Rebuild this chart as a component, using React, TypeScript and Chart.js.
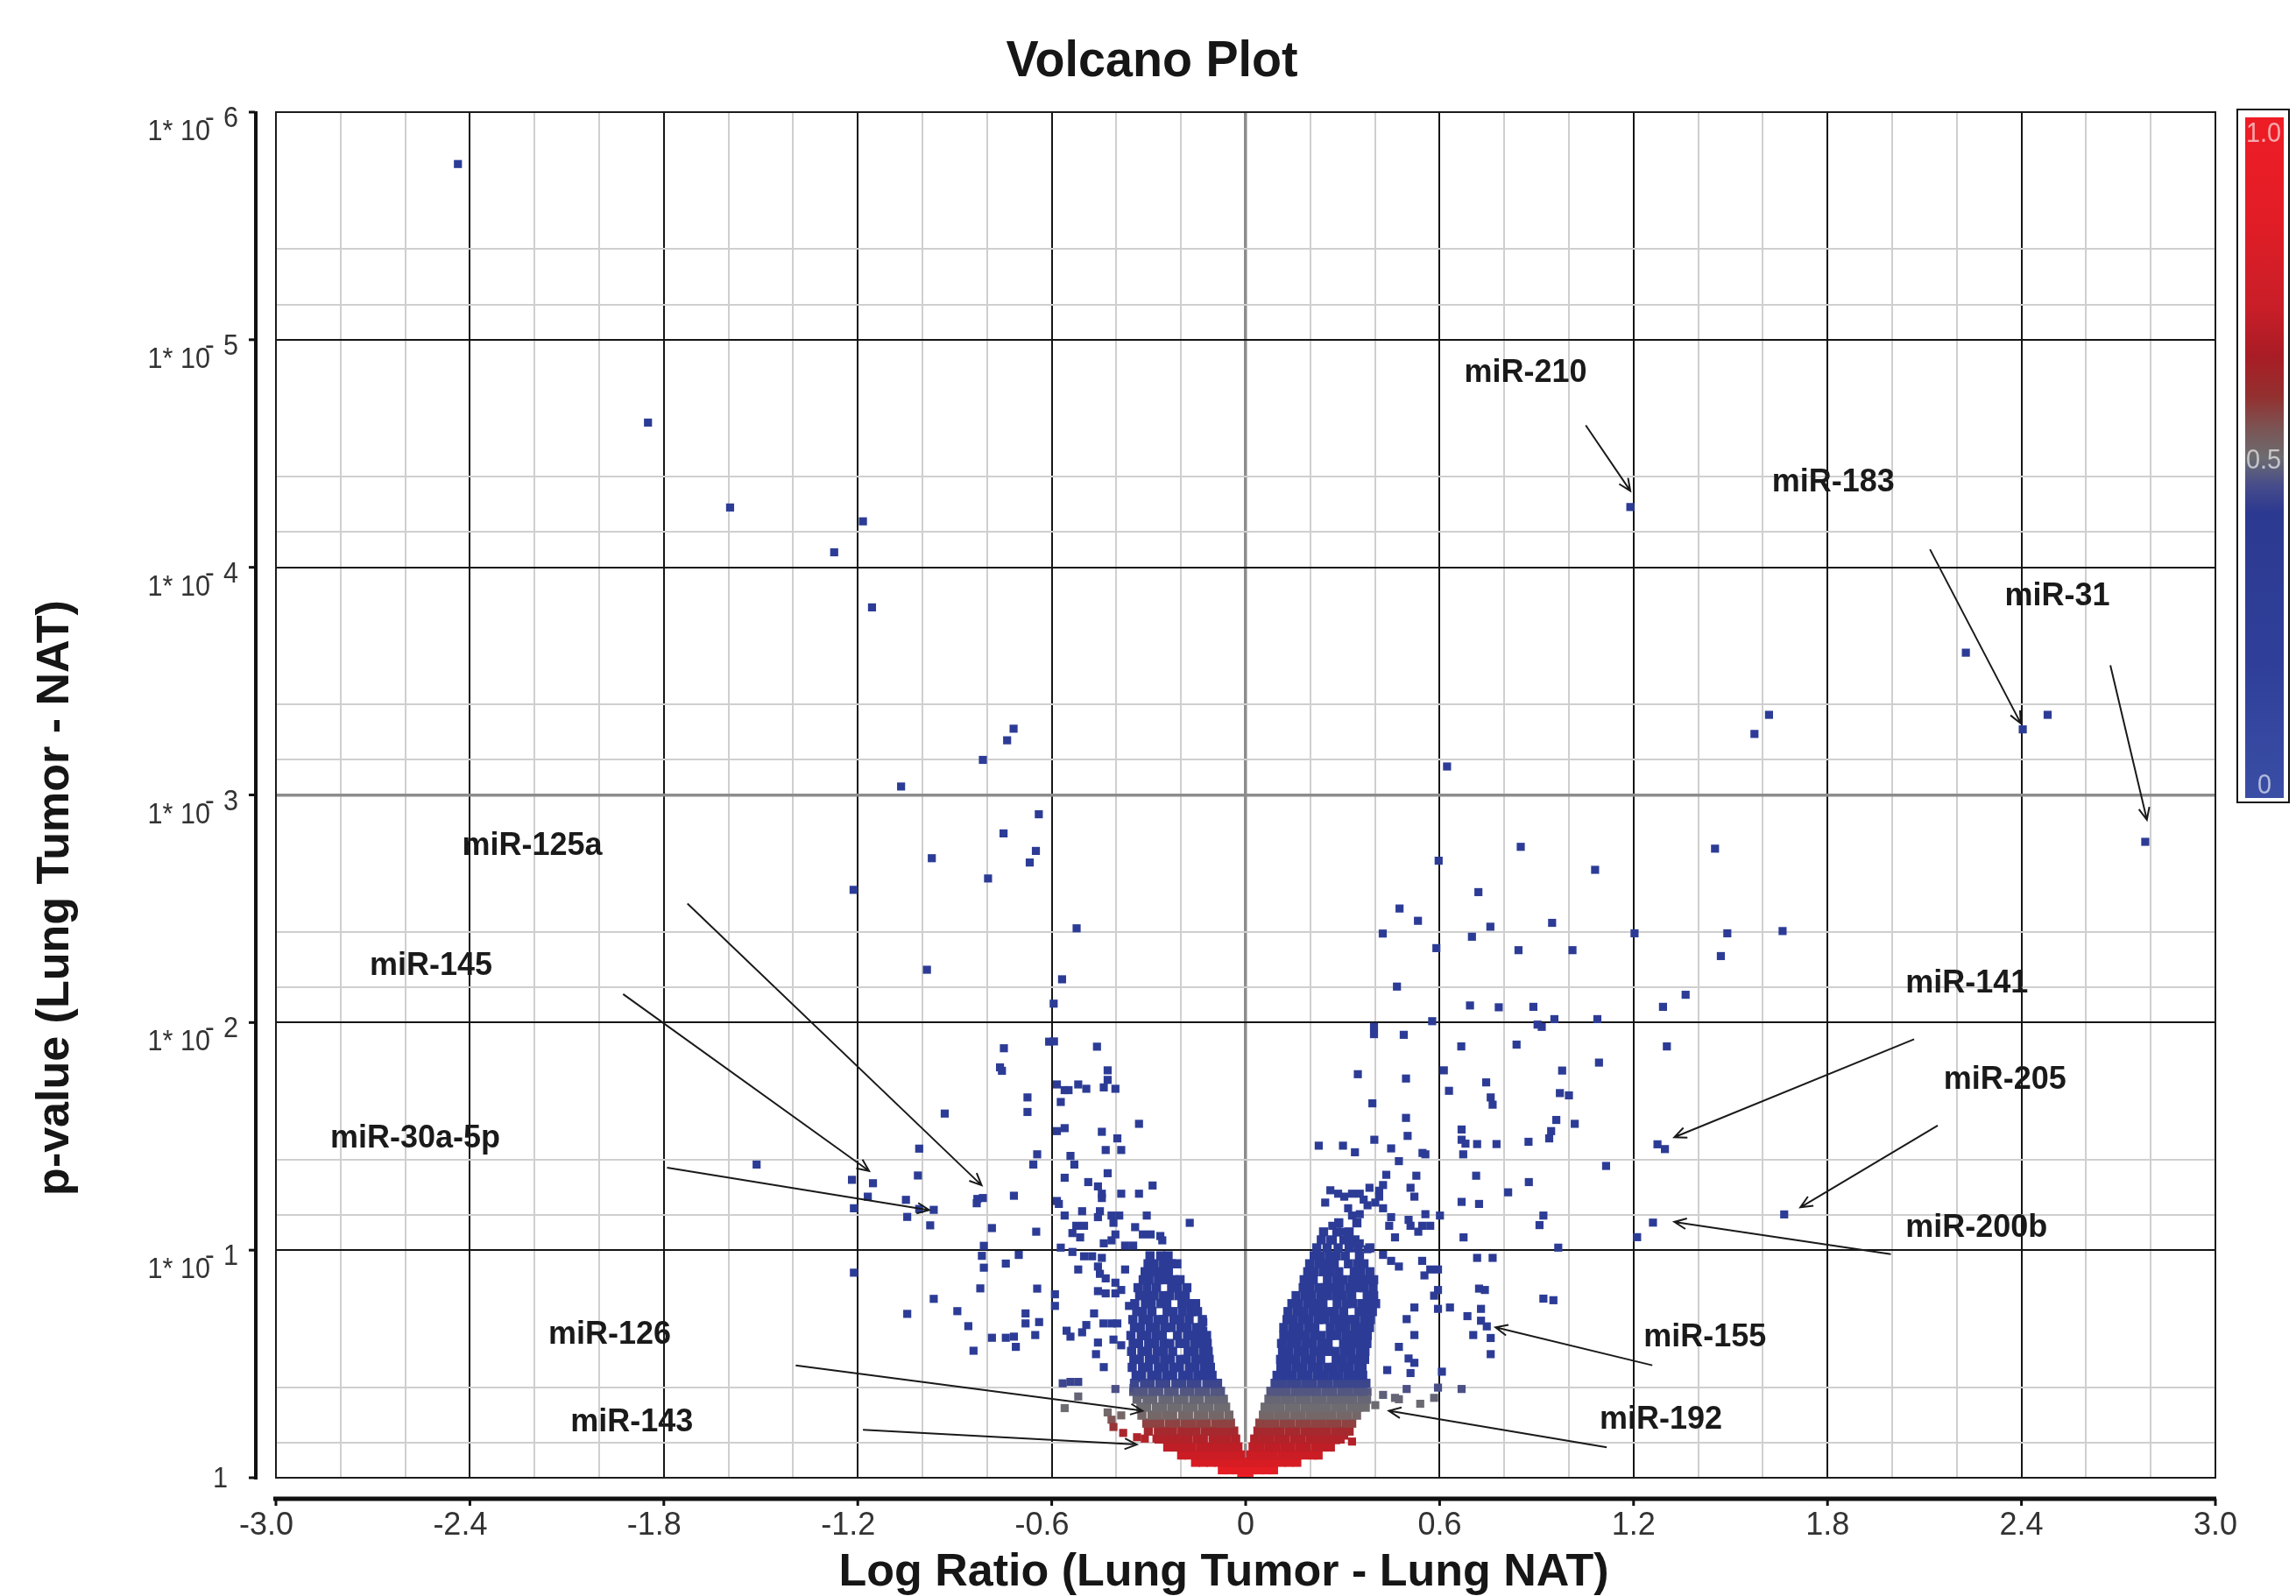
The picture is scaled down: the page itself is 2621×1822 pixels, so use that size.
import React, { useEffect, useRef } from 'react';
import { Chart, registerables } from 'chart.js';

Chart.register(...registerables);

// x = log ratio (Lung Tumor - Lung NAT), y = -log10(p-value)
const topOutliers: number[][] = [
  [-2.437, 5.772], [-1.849, 4.636], [-1.595, 4.263], [-1.184, 4.202], [-1.273, 4.066], [-1.156, 3.824],
  [-0.718, 3.291], [-0.738, 3.240], [-0.813, 3.154], [-1.066, 3.037],
  [-0.640, 2.915], [-0.749, 2.831], [-0.649, 2.754], [-0.668, 2.703], [-0.971, 2.722], [-0.797, 2.633],
  [-1.213, 2.583], [-0.523, 2.414], [-0.986, 2.232], [-0.568, 2.190], [-0.594, 2.083],
  [1.190, 4.265], [2.228, 3.625], [2.404, 3.288], [2.481, 3.352], [1.619, 3.352], [1.574, 3.268],
  [2.783, 2.794], [0.623, 3.125],
];

const leftScatter: number[][] = [
  [-0.608, 1.916], [-0.593, 1.917], [-0.748, 1.887], [-0.460, 1.894], [-0.760, 1.803], [-0.754, 1.788],
  [-0.931, 1.600], [-1.010, 1.446], [-1.513, 1.376], [-1.014, 1.328], [-1.218, 1.309], [-1.153, 1.294],
  [-1.169, 1.235], [-1.051, 1.221], [-0.830, 1.225], [-0.813, 1.229], [-0.832, 1.206], [-1.212, 1.184],
  [-1.010, 1.181], [-0.965, 1.177], [-1.047, 1.146], [-0.976, 1.109], [-0.785, 1.097], [-0.810, 1.019],
  [-0.816, 0.975], [-0.810, 0.923], [-0.742, 0.941], [-1.212, 0.901], [-0.821, 0.832], [-0.965, 0.786],
  [-1.047, 0.720], [-0.892, 0.732], [-0.858, 0.666], [-0.785, 0.615], [-0.742, 0.615], [-0.842, 0.558],
  [-0.427, 1.790], [-0.427, 1.748], [-0.584, 1.728], [-0.560, 1.703], [-0.548, 1.703], [-0.572, 1.651],
  [-0.518, 1.728], [-0.493, 1.709], [-0.439, 1.715], [-0.403, 1.709], [-0.675, 1.671], [-0.675, 1.607],
  [-0.330, 1.555], [-0.584, 1.523], [-0.560, 1.536], [-0.445, 1.520], [-0.397, 1.491], [-0.385, 1.440],
  [-0.433, 1.440], [-0.645, 1.421], [-0.657, 1.376], [-0.542, 1.414], [-0.530, 1.376], [-0.427, 1.338],
  [-0.560, 1.318], [-0.487, 1.299], [-0.457, 1.280], [-0.445, 1.248], [-0.445, 1.229], [-0.385, 1.248],
  [-0.330, 1.248], [-0.288, 1.284], [-0.717, 1.239], [-0.584, 1.216], [-0.578, 1.203], [-0.506, 1.171],
  [-0.451, 1.171], [-0.457, 1.145], [-0.415, 1.152], [-0.391, 1.152], [-0.306, 1.152], [-0.560, 1.152],
  [-0.173, 1.120], [-0.524, 1.107], [-0.500, 1.107], [-0.536, 1.075], [-0.512, 1.056], [-0.409, 1.120],
  [-0.403, 1.069], [-0.342, 1.101], [-0.318, 1.069], [-0.294, 1.069], [-0.264, 1.062], [-0.258, 1.043],
  [-0.648, 1.081], [-0.439, 1.030], [-0.415, 1.043], [-0.373, 1.020], [-0.348, 1.020], [-0.572, 1.011],
  [-0.536, 0.992], [-0.500, 0.973], [-0.475, 0.973], [-0.445, 0.966], [-0.702, 0.979], [-0.518, 0.915],
  [-0.457, 0.928], [-0.451, 0.896], [-0.433, 0.876], [-0.403, 0.857], [-0.373, 0.915], [-0.645, 0.831],
  [-0.590, 0.806], [-0.590, 0.755], [-0.457, 0.820], [-0.433, 0.810], [-0.403, 0.810], [-0.385, 0.825],
  [-0.361, 0.755], [-0.681, 0.722], [-0.681, 0.678], [-0.639, 0.684], [-0.651, 0.627], [-0.469, 0.722],
  [-0.554, 0.646], [-0.542, 0.620], [-0.506, 0.639], [-0.493, 0.671], [-0.440, 0.678], [-0.415, 0.678],
  [-0.397, 0.678], [-0.717, 0.620], [-0.711, 0.575], [-0.131, 0.684], [-0.131, 0.646], [-0.131, 0.620],
  [-0.566, 0.415], [-0.542, 0.421], [-0.518, 0.421], [-0.560, 0.306], [-0.518, 0.357], [-0.403, 0.390],
  [-0.463, 0.543], [-0.439, 0.486], [-0.457, 0.594], [-0.409, 0.607], [-0.385, 0.582], [-0.427, 0.287],
  [-0.415, 0.255], [-0.385, 0.274], [-0.409, 0.223], [-0.379, 0.197], [-0.336, 0.178], [-0.312, 0.172],
  [-0.276, 0.172], [-0.348, 0.377], [-0.324, 0.364], [-0.338, 0.438], [-0.347, 0.394],
];

const rightScatter: number[][] = [
  [0.851, 2.772], [1.452, 2.764], [0.597, 2.711], [1.081, 2.671], [0.720, 2.573], [0.476, 2.501],
  [0.533, 2.447], [0.948, 2.438], [0.757, 2.421], [0.424, 2.391], [0.700, 2.377], [1.203, 2.392],
  [1.490, 2.392], [1.661, 2.402], [0.590, 2.327], [0.844, 2.318], [1.011, 2.318], [1.470, 2.292],
  [0.468, 2.158], [1.361, 2.122], [1.291, 2.069], [0.694, 2.075], [0.783, 2.067], [0.890, 2.069],
  [0.397, 1.981], [0.397, 1.949], [0.489, 1.946], [0.577, 2.006], [0.903, 1.991], [0.916, 1.981],
  [0.955, 2.015], [1.088, 2.015], [0.667, 1.895], [0.838, 1.903], [1.303, 1.895], [1.274, 1.465],
  [1.297, 1.444], [1.666, 1.157], [1.260, 1.121], [1.211, 1.057],
  [0.347, 1.773], [0.496, 1.754], [0.613, 1.790], [0.629, 1.700], [0.744, 1.737], [0.758, 1.671],
  [0.764, 1.639], [0.979, 1.789], [0.972, 1.690], [1.000, 1.680], [1.093, 1.824], [0.392, 1.645],
  [0.496, 1.581], [0.501, 1.502], [0.398, 1.485], [0.226, 1.459], [0.301, 1.459], [0.338, 1.430],
  [0.450, 1.447], [0.547, 1.427], [0.556, 1.421], [0.474, 1.391], [0.668, 1.530], [0.668, 1.485],
  [0.680, 1.468], [0.673, 1.421], [0.716, 1.466], [0.776, 1.466], [0.875, 1.476], [0.961, 1.572],
  [1.018, 1.555], [0.945, 1.523], [0.939, 1.491], [1.115, 1.370], [0.713, 1.327], [0.876, 1.299],
  [0.812, 1.254], [0.668, 1.212], [0.722, 1.203], [0.921, 1.152], [0.909, 1.110], [0.674, 1.056],
  [0.967, 1.011], [0.528, 1.327], [0.435, 1.331], [0.425, 1.286], [0.413, 1.261], [0.383, 1.274],
  [0.353, 1.248], [0.329, 1.248], [0.305, 1.235], [0.286, 1.248], [0.262, 1.263], [0.246, 1.209],
  [0.317, 1.184], [0.329, 1.152], [0.353, 1.158], [0.365, 1.222], [0.377, 1.197], [0.413, 1.235],
  [0.401, 1.209], [0.425, 1.184], [0.510, 1.274], [0.522, 1.235], [0.450, 1.145], [0.444, 1.107],
  [0.462, 1.056], [0.504, 1.133], [0.510, 1.107], [0.546, 1.107], [0.534, 1.081], [0.571, 1.107],
  [0.556, 1.158], [0.601, 1.152], [0.268, 1.107], [0.262, 1.043], [0.298, 1.081], [0.317, 1.056],
  [0.329, 1.030], [0.353, 1.030], [0.377, 1.004], [0.425, 0.979], [0.450, 0.953], [0.474, 0.928],
  [0.546, 0.953], [0.571, 0.915], [0.595, 0.915], [0.553, 0.889], [0.595, 0.825], [0.583, 0.800],
  [0.595, 0.742], [0.632, 0.748], [0.522, 0.748], [0.498, 0.697], [0.716, 0.966], [0.764, 0.966],
  [0.722, 0.831], [0.740, 0.825], [0.921, 0.787], [0.952, 0.780], [0.728, 0.742], [0.686, 0.710],
  [0.728, 0.690], [0.746, 0.665], [0.758, 0.614], [0.704, 0.627], [0.758, 0.543], [0.522, 0.627],
  [0.474, 0.575], [0.504, 0.524], [0.522, 0.505], [0.438, 0.473], [0.510, 0.460], [0.607, 0.466],
  [0.498, 0.390], [0.595, 0.396], [0.583, 0.351], [0.668, 0.390], [0.540, 0.325], [0.401, 0.319],
  [0.425, 0.364], [0.462, 0.351], [0.474, 0.345], [0.377, 0.377], [0.329, 0.159], [0.280, 0.165],
  [0.305, 0.185],
];

// dense core: each row = [y, x1, x2, ...]
const tipRows: number[][] = [
  [0.005, -0.012, 0.010],
  [0.035, -0.072, -0.050, -0.027, -0.004, 0.019, 0.042, 0.064, 0.086],
  [0.068, -0.155, -0.131, -0.107, -0.083, -0.059, -0.035, -0.011, 0.013, 0.037, 0.061, 0.085, 0.109, 0.133, 0.158],
];

const leftCoreRows: number[][] = [
  [0.100, -0.198, -0.176, -0.151, -0.129, -0.104, -0.083, -0.058, -0.036, -0.016],
  [0.135, -0.241, -0.215, -0.193, -0.168, -0.140, -0.119, -0.097, -0.071, -0.048, -0.024],
  [0.170, -0.268, -0.247, -0.221, -0.203, -0.178, -0.150, -0.131, -0.101, -0.082, -0.058, -0.031],
  [0.205, -0.301, -0.270, -0.251, -0.226, -0.197, -0.179, -0.155, -0.126, -0.106, -0.079, -0.059, -0.037],
  [0.240, -0.306, -0.284, -0.265, -0.236, -0.217, -0.188, -0.168, -0.140, -0.121, -0.092, -0.071, -0.047],
  [0.275, -0.321, -0.290, -0.272, -0.244, -0.226, -0.195, -0.177, -0.147, -0.129, -0.100, -0.081, -0.052],
  [0.310, -0.324, -0.306, -0.276, -0.258, -0.229, -0.210, -0.181, -0.162, -0.133, -0.114, -0.085, -0.062],
  [0.345, -0.336, -0.305, -0.287, -0.256, -0.238, -0.209, -0.191, -0.161, -0.143, -0.113, -0.095, -0.069],
  [0.380, -0.334, -0.316, -0.287, -0.269, -0.239, -0.221, -0.190, -0.172, -0.143, -0.125, -0.096, -0.078],
  [0.415, -0.344, -0.313, -0.295, -0.265, -0.247, -0.216, -0.198, -0.169, -0.151, -0.120, -0.102, -0.087],
  [0.450, -0.339, -0.322, -0.291, -0.273, -0.244, -0.226, -0.195, -0.177, -0.148, -0.129, -0.104],
  [0.485, -0.351, -0.319, -0.301, -0.270, -0.252, -0.223, -0.205, -0.174, -0.156, -0.127, -0.109],
  [0.520, -0.346, -0.329, -0.298, -0.280, -0.251, -0.233, -0.202, -0.184, -0.155, -0.137, -0.113],
  [0.555, -0.353, -0.321, -0.303, -0.273, -0.255, -0.226, -0.178, -0.160, -0.131, -0.116],
  [0.590, -0.348, -0.331, -0.300, -0.282, -0.253, -0.235, -0.204, -0.186, -0.157, -0.139, -0.119],
  [0.625, -0.355, -0.323, -0.305, -0.276, -0.258, -0.211, -0.180, -0.162, -0.136, -0.121],
  [0.660, -0.344, -0.326, -0.296, -0.278, -0.249, -0.230, -0.200, -0.182, -0.153, -0.137],
  [0.695, -0.349, -0.318, -0.300, -0.271, -0.253, -0.222, -0.204, -0.175, -0.134],
  [0.730, -0.337, -0.319, -0.290, -0.243, -0.225, -0.196, -0.168, -0.149],
  [0.765, -0.343, -0.310, -0.292, -0.262, -0.244, -0.197, -0.170, -0.155],
  [0.800, -0.328, -0.301, -0.283, -0.254, -0.236, -0.207, -0.187],
  [0.835, -0.333, -0.305, -0.276, -0.229, -0.211, -0.182],
  [0.870, -0.317, -0.299, -0.270, -0.248, -0.222, -0.203],
  [0.905, -0.311, -0.288, -0.264, -0.239],
  [0.940, -0.302, -0.283, -0.254, -0.230, -0.213],
  [0.975, -0.296, -0.263, -0.240],
];

const rightCoreRows: number[][] = [
  [0.100, 0.016, 0.038, 0.064, 0.085, 0.112, 0.133, 0.160, 0.181, 0.208, 0.224],
  [0.135, 0.023, 0.045, 0.072, 0.092, 0.120, 0.140, 0.168, 0.188, 0.216, 0.236, 0.262],
  [0.170, 0.028, 0.055, 0.075, 0.103, 0.123, 0.151, 0.171, 0.199, 0.219, 0.247, 0.267, 0.292],
  [0.205, 0.038, 0.059, 0.087, 0.107, 0.135, 0.155, 0.183, 0.203, 0.231, 0.251, 0.279, 0.299, 0.320],
  [0.240, 0.044, 0.071, 0.091, 0.119, 0.139, 0.167, 0.187, 0.215, 0.235, 0.263, 0.283, 0.311, 0.328],
  [0.275, 0.055, 0.075, 0.103, 0.123, 0.151, 0.171, 0.199, 0.219, 0.247, 0.267, 0.295, 0.315, 0.343],
  [0.310, 0.060, 0.087, 0.107, 0.135, 0.155, 0.183, 0.203, 0.231, 0.251, 0.279, 0.299, 0.327, 0.347, 0.370],
  [0.345, 0.072, 0.092, 0.120, 0.140, 0.168, 0.188, 0.216, 0.236, 0.264, 0.284, 0.312, 0.332, 0.360, 0.374],
  [0.380, 0.078, 0.105, 0.125, 0.153, 0.173, 0.201, 0.221, 0.249, 0.269, 0.297, 0.317, 0.345, 0.363],
  [0.415, 0.091, 0.111, 0.139, 0.159, 0.187, 0.207, 0.235, 0.255, 0.283, 0.303, 0.331, 0.351, 0.372],
  [0.450, 0.097, 0.125, 0.145, 0.173, 0.193, 0.221, 0.241, 0.269, 0.289, 0.317, 0.337, 0.362],
  [0.485, 0.109, 0.129, 0.157, 0.177, 0.205, 0.225, 0.253, 0.273, 0.301, 0.321, 0.349, 0.360],
  [0.520, 0.108, 0.136, 0.156, 0.184, 0.204, 0.232, 0.280, 0.300, 0.328, 0.348, 0.368],
  [0.555, 0.114, 0.134, 0.162, 0.182, 0.210, 0.230, 0.258, 0.278, 0.306, 0.326, 0.354, 0.369],
  [0.590, 0.111, 0.139, 0.159, 0.187, 0.207, 0.235, 0.255, 0.303, 0.331, 0.351, 0.375],
  [0.625, 0.118, 0.138, 0.166, 0.186, 0.214, 0.234, 0.262, 0.282, 0.310, 0.330, 0.358, 0.376],
  [0.660, 0.118, 0.146, 0.166, 0.194, 0.214, 0.262, 0.290, 0.310, 0.338, 0.358, 0.383],
  [0.695, 0.128, 0.148, 0.176, 0.196, 0.224, 0.244, 0.272, 0.292, 0.320, 0.340, 0.368, 0.386],
  [0.730, 0.131, 0.159, 0.179, 0.207, 0.227, 0.255, 0.275, 0.303, 0.351, 0.371, 0.392],
  [0.765, 0.143, 0.163, 0.191, 0.211, 0.239, 0.283, 0.311, 0.331, 0.359, 0.379, 0.402],
  [0.800, 0.156, 0.184, 0.204, 0.232, 0.252, 0.280, 0.300, 0.328, 0.376, 0.396],
  [0.835, 0.178, 0.198, 0.226, 0.246, 0.274, 0.294, 0.322, 0.346, 0.366, 0.394],
  [0.870, 0.181, 0.209, 0.253, 0.281, 0.301, 0.329, 0.349, 0.377, 0.396],
  [0.905, 0.192, 0.212, 0.240, 0.260, 0.288, 0.336, 0.356, 0.384],
  [0.940, 0.198, 0.226, 0.246, 0.274, 0.318, 0.346, 0.366],
  [0.975, 0.212, 0.232, 0.260, 0.280, 0.308, 0.352],
  [1.010, 0.220, 0.252, 0.286, 0.320, 0.348, 0.384],
  [1.045, 0.234, 0.268, 0.304, 0.338],
  [1.080, 0.241, 0.282, 0.320],
  [1.120, 0.288, 0.344],
];

const xTickValues = [-3, -2.4, -1.8, -1.2, -0.6, 0, 0.6, 1.2, 1.8, 2.4, 3];
const xTickLabels = ['-3.0', '-2.4', '-1.8', '-1.2', '-0.6', '0', '0.6', '1.2', '1.8', '2.4', '3.0'];
const yExponents = [1, 2, 3, 4, 5, 6];

// label: text, [tx, ty] = text left/baseline, [x0,y0] -> [x1,y1] arrow (data coordinates)
const annotations: { label: string; tx: number; ty: number; x0: number; y0: number; x1: number; y1: number }[] = [
  { label: 'miR-210', tx: 0.676, ty: 4.816, x0: 1.052, y0: 4.624, x1: 1.190, y1: 4.336 },
  { label: 'miR-183', tx: 1.628, ty: 4.335, x0: 2.117, y0: 4.079, x1: 2.398, y1: 3.314 },
  { label: 'miR-31', tx: 2.348, ty: 3.834, x0: 2.675, y0: 3.570, x1: 2.788, y1: 2.891 },
  { label: 'miR-125a', tx: -2.424, ty: 2.735, x0: -1.727, y0: 2.523, x1: -0.817, y1: 1.285 },
  { label: 'miR-145', tx: -2.710, ty: 2.208, x0: -1.926, y0: 2.125, x1: -1.165, y1: 1.348 },
  { label: 'miR-30a-5p', tx: -2.832, ty: 1.450, x0: -1.790, y0: 1.362, x1: -0.979, y1: 1.176 },
  { label: 'miR-126', tx: -2.157, ty: 0.590, x0: -1.392, y0: 0.494, x1: -0.319, y1: 0.294 },
  { label: 'miR-143', tx: -2.089, ty: 0.204, x0: -1.184, y0: 0.211, x1: -0.337, y1: 0.146 },
  { label: 'miR-141', tx: 2.041, ty: 2.132, x0: 2.068, y0: 1.927, x1: 1.326, y1: 1.496 },
  { label: 'miR-205', tx: 2.159, ty: 1.708, x0: 2.141, y0: 1.548, x1: 1.716, y1: 1.188 },
  { label: 'miR-200b', tx: 2.041, ty: 1.058, x0: 1.996, y0: 0.982, x1: 1.326, y1: 1.124 },
  { label: 'miR-155', tx: 1.231, ty: 0.577, x0: 1.258, y0: 0.494, x1: 0.773, y1: 0.661 },
  { label: 'miR-192', tx: 1.095, ty: 0.217, x0: 1.117, y0: 0.134, x1: 0.443, y1: 0.294 },
];

const FONT = "'Liberation Sans', Arial, Helvetica, sans-serif";

// colour map on p-value (0 = blue, 0.5 = grey, 1 = red)
const pointStops: [number, number[]][] = [
  [0.0, [44, 60, 150]],
  [0.36, [44, 60, 150]],
  [0.4, [70, 76, 136]],
  [0.44, [100, 100, 118]],
  [0.5, [112, 110, 112]],
  [0.54, [118, 100, 100]],
  [0.58, [145, 62, 62]],
  [0.63, [168, 38, 44]],
  [0.72, [188, 30, 38]],
  [0.82, [210, 28, 36]],
  [0.92, [228, 28, 36]],
  [1.0, [238, 30, 38]],
];

function colorForP(p: number): string {
  for (let i = 1; i < pointStops.length; i++) {
    const [p1, c1] = pointStops[i];
    const [p0, c0] = pointStops[i - 1];
    if (p <= p1) {
      const t = (p - p0) / (p1 - p0 || 1);
      const c = c0.map((v, k) => Math.round(v + (c1[k] - v) * t));
      return `rgb(${c[0]},${c[1]},${c[2]})`;
    }
  }
  return 'rgb(238,30,38)';
}

function rowsToPoints(groups: number[][][]) {
  const pts: { x: number; y: number }[] = [];
  for (const rows of groups) {
    for (const row of rows) {
      for (let i = 1; i < row.length; i++) pts.push({ x: row[i], y: row[0] });
    }
  }
  return pts;
}

function pairsToPoints(groups: number[][][]) {
  const pts: { x: number; y: number }[] = [];
  for (const list of groups) for (const [x, y] of list) pts.push({ x, y });
  return pts;
}

function drawText(ctx: CanvasRenderingContext2D, text: string, x: number, y: number, font: string, align: CanvasTextAlign, sx = 1) {
  ctx.save();
  ctx.translate(x, y);
  ctx.scale(sx, 1);
  ctx.font = font;
  ctx.textAlign = align;
  ctx.textBaseline = 'alphabetic';
  ctx.fillText(text, 0, 0);
  ctx.restore();
}

const decorPlugin = {
  id: 'decor',
  afterDraw(chart: any) {
    const { ctx, chartArea: a } = chart;
    const xs = chart.scales.x;
    const ys = chart.scales.y;
    ctx.save();

    // plot frame
    ctx.strokeStyle = '#1c1c1c';
    ctx.lineWidth = 2;
    ctx.strokeRect(a.left, a.top, a.right - a.left, a.bottom - a.top);

    // separate y axis line with ticks
    const axX = a.left - 23;
    ctx.fillStyle = '#111';
    ctx.fillRect(axX - 2, a.top - 1, 4, a.bottom - a.top + 3);
    for (let k = 0; k <= 6; k++) {
      const py = ys.getPixelForValue(k);
      ctx.fillRect(axX - 8, py - 1.5, 7, 3);
    }
    // separate x axis line with ticks
    const axY = a.bottom + 24;
    ctx.fillRect(a.left - 3, axY - 2.5, a.right - a.left + 4, 5);
    xTickValues.forEach((v) => {
      const px = xs.getPixelForValue(v);
      ctx.fillRect(px - 1.5, axY, 3, 8);
    });

    // y tick labels: 1* 10^-k
    ctx.fillStyle = '#333';
    const tickFont = `34px ${FONT}`;
    yExponents.forEach((k) => {
      const py = ys.getPixelForValue(k);
      drawText(ctx, '1* 10', axX - 52, py + 32, tickFont, 'right', 0.9);
      drawText(ctx, '-', axX - 58, py + 17, tickFont, 'left', 0.95);
      drawText(ctx, String(k), axX - 37, py + 17, tickFont, 'left', 0.9);
    });
    drawText(ctx, '1', axX - 32, ys.getPixelForValue(0) + 11, tickFont, 'right', 0.9);

    // x tick labels
    const xFont = `36px ${FONT}`;
    xTickValues.forEach((v, i) => {
      const px = xs.getPixelForValue(v);
      drawText(ctx, xTickLabels[i], px - (v < 0 ? 11 : 0), axY + 41, xFont, 'center', 1);
    });

    // titles
    ctx.fillStyle = '#161616';
    drawText(ctx, 'Volcano Plot', 1315, 87, `bold 58px ${FONT}`, 'center', 0.96);
    drawText(ctx, 'Log Ratio (Lung Tumor - Lung NAT)', 1397, 1810, `bold 52px ${FONT}`, 'center', 1);
    ctx.save();
    ctx.translate(78, 1025);
    ctx.rotate(-Math.PI / 2);
    ctx.font = `bold 52px ${FONT}`;
    ctx.textAlign = 'center';
    ctx.textBaseline = 'alphabetic';
    ctx.fillText('p-value (Lung Tumor - NAT)', 0, 0);
    ctx.restore();

    // annotations
    ctx.strokeStyle = '#1a1a1a';
    ctx.fillStyle = '#1a1a1a';
    ctx.lineWidth = 2;
    annotations.forEach((an) => {
      drawText(ctx, an.label, xs.getPixelForValue(an.tx), ys.getPixelForValue(an.ty), `bold 36px ${FONT}`, 'left', 1);
      const x0 = xs.getPixelForValue(an.x0), y0 = ys.getPixelForValue(an.y0);
      const x1 = xs.getPixelForValue(an.x1), y1 = ys.getPixelForValue(an.y1);
      const ang = Math.atan2(y1 - y0, x1 - x0);
      const L = 15, s = 0.42;
      ctx.beginPath();
      ctx.moveTo(x0, y0);
      ctx.lineTo(x1, y1);
      ctx.moveTo(x1 - L * Math.cos(ang - s), y1 - L * Math.sin(ang - s));
      ctx.lineTo(x1, y1);
      ctx.lineTo(x1 - L * Math.cos(ang + s), y1 - L * Math.sin(ang + s));
      ctx.stroke();
    });

    // colour bar
    const cbx = 2563, cby = 134, cbw = 44, cbh = 777;
    ctx.strokeStyle = '#111';
    ctx.lineWidth = 2;
    ctx.strokeRect(2554, 125, 59, 791);
    const g = ctx.createLinearGradient(0, cby, 0, cby + cbh);
    g.addColorStop(0.0, '#ee1c25');
    g.addColorStop(0.15, '#e21d26');
    g.addColorStop(0.28, '#c81e28');
    g.addColorStop(0.35, '#a91c25');
    g.addColorStop(0.41, '#93302f');
    g.addColorStop(0.46, '#7a5656');
    g.addColorStop(0.5, '#6c6c70');
    g.addColorStop(0.54, '#474c8a');
    g.addColorStop(0.58, '#2c3990');
    g.addColorStop(0.8, '#2f3f99');
    g.addColorStop(1.0, '#3a4ea5');
    ctx.fillStyle = g;
    ctx.fillRect(cbx, cby, cbw, cbh);
    ctx.save();
    ctx.beginPath();
    ctx.rect(cbx, cby, cbw, cbh);
    ctx.clip();
    ctx.fillStyle = 'rgba(255,255,255,0.62)';
    drawText(ctx, '1.0', 2604, 162, `32px ${FONT}`, 'right', 0.9);
    drawText(ctx, '0.5', 2604, 535, `32px ${FONT}`, 'right', 0.9);
    drawText(ctx, '0', 2585, 906, `32px ${FONT}`, 'center', 0.9);
    ctx.restore();

    ctx.restore();
  },
};

function isMultiple(v: number, step: number) {
  const r = v / step;
  return Math.abs(r - Math.round(r)) < 1e-6;
}

export default function App() {
  const ref = useRef<HTMLCanvasElement>(null);
  useEffect(() => {
    const canvas = ref.current;
    if (!canvas) return;
    const xGrid: number[] = [];
    for (let i = 0; i <= 30; i++) xGrid.push(Math.round((-3 + i * 0.2) * 10) / 10);
    const yGrid: number[] = [];
    for (let k = 0; k <= 6; k++) {
      yGrid.push(k);
      if (k < 6) {
        yGrid.push(k + Math.log10(1 / 0.7));
        yGrid.push(k + Math.log10(1 / 0.4));
      }
    }
    const colorFn = (c: any) => colorForP(Math.pow(10, -(c.raw ? c.raw.y : 0)));
    const chart = new Chart(canvas, {
      type: 'scatter',
      data: {
        datasets: [
          {
            label: 'core',
            data: rowsToPoints([tipRows, leftCoreRows, rightCoreRows]),
            pointStyle: 'rect',
            pointRadius: 7.4,
            pointHoverRadius: 7.4,
            borderWidth: 0,
            backgroundColor: colorFn,
          },
          {
            label: 'scatter',
            data: pairsToPoints([leftScatter, rightScatter, topOutliers]),
            pointStyle: 'rect',
            pointRadius: 6.5,
            pointHoverRadius: 6.5,
            borderWidth: 0,
            backgroundColor: colorFn,
          },
        ],
      },
      options: {
        responsive: false,
        maintainAspectRatio: false,
        devicePixelRatio: 1,
        animation: false,
        events: [],
        layout: { padding: { left: 315, right: 92, top: 128, bottom: 135 } },
        plugins: { legend: { display: false }, tooltip: { enabled: false }, title: { display: false } },
        scales: {
          x: {
            type: 'linear',
            min: -3,
            max: 3,
            afterBuildTicks: (s: any) => { s.ticks = xGrid.map((v) => ({ value: v })); },
            afterFit: (s: any) => { s.height = 0; },
            ticks: { display: false, autoSkip: false },
            border: { display: false },
            grid: {
              drawTicks: false,
              color: (c: any) => {
                const v = c.tick ? c.tick.value : 1;
                if (Math.abs(v) < 1e-9) return '#8c8c8c';
                return isMultiple(v, 0.6) ? '#151515' : '#cfcfcf';
              },
              lineWidth: (c: any) => {
                const v = c.tick ? c.tick.value : 1;
                return Math.abs(v) < 1e-9 ? 3.5 : 2;
              },
            },
          },
          y: {
            type: 'linear',
            min: 0,
            max: 6,
            afterBuildTicks: (s: any) => { s.ticks = yGrid.map((v) => ({ value: v })); },
            afterFit: (s: any) => { s.width = 0; },
            ticks: { display: false, autoSkip: false },
            border: { display: false },
            grid: {
              drawTicks: false,
              color: (c: any) => {
                const v = c.tick ? c.tick.value : 0;
                if (Math.abs(v - 3) < 1e-9) return '#8c8c8c';
                return isMultiple(v, 1) ? '#151515' : '#cfcfcf';
              },
              lineWidth: (c: any) => {
                const v = c.tick ? c.tick.value : 0;
                return Math.abs(v - 3) < 1e-9 ? 3.5 : 2;
              },
            },
          },
        },
      },
      plugins: [decorPlugin],
    } as any);
    return () => chart.destroy();
  }, []);
  return (
    <div style={{ position: 'absolute', left: 0, top: 0, width: 2621, height: 1822, background: '#fff', overflow: 'hidden' }}>
      <canvas ref={ref} width={2621} height={1822} style={{ display: 'block', width: 2621, height: 1822 }} />
    </div>
  );
}
